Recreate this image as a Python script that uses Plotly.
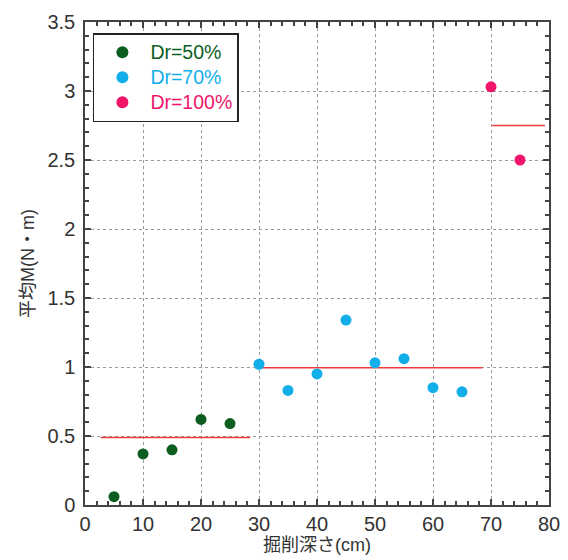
import plotly.graph_objects as go

# Data
depth_50 = [5, 10, 15, 20, 25]
m_50 = [0.06, 0.37, 0.40, 0.62, 0.59]
depth_70 = [30, 35, 40, 45, 50, 55, 60, 65]
m_70 = [1.02, 0.83, 0.95, 1.34, 1.03, 1.06, 0.85, 0.82]
depth_100 = [70, 75]
m_100 = [3.03, 2.50]

# Mean lines (start, end, value)
mean_x_50 = [2.7, 28.5]
mean_y_50 = [0.49, 0.49]
mean_x_70 = [30.6, 68.5]
mean_y_70 = [0.995, 0.995]
mean_x_100 = [70.2, 79.3]
mean_y_100 = [2.75, 2.75]

series_names = ["Dr=50%", "Dr=70%", "Dr=100%"]
colors = ["#0b5e1f", "#12aeea", "#f0156b"]
line_color = "#f23a3a"

x_ticks = [0, 10, 20, 30, 40, 50, 60, 70, 80]
y_ticks = [0, 0.5, 1, 1.5, 2, 2.5, 3, 3.5]
y_tick_text = ["0", "0.5", "1", "1.5", "2", "2.5", "3", "3.5"]

font_family = "Liberation Sans, Noto Sans CJK JP, sans-serif"

fig = go.Figure()

for xs, ys in [(mean_x_50, mean_y_50), (mean_x_70, mean_y_70), (mean_x_100, mean_y_100)]:
    fig.add_trace(go.Scatter(x=xs, y=ys, mode="lines",
                             line=dict(color=line_color, width=1.5),
                             showlegend=False, hoverinfo="skip"))

for name, xs, ys, c in zip(series_names, [depth_50, depth_70, depth_100],
                           [m_50, m_70, m_100], colors):
    fig.add_trace(go.Scatter(x=xs, y=ys, mode="markers",
                             marker=dict(color=c, size=11, line=dict(width=0)),
                             name=f'<span style="color:{c};font-size:19.5px">{name}</span>'))

axis_common = dict(
    showline=True, linecolor="#444", linewidth=1.5, mirror="ticks",
    ticks="inside", ticklen=6, tickcolor="#444", tickwidth=1.5,
    showgrid=True, gridcolor="#9a9a9a", griddash="dot", gridwidth=1,
    zeroline=False, automargin=False,
    tickfont=dict(family=font_family, size=20, color="#333"),
)

fig.update_xaxes(
    range=[0, 80], tickvals=x_ticks,
    minor=dict(dtick=2, ticks="inside", ticklen=4, tickcolor="#444", showgrid=False),
    title=dict(text="掘削深さ(cm)", font=dict(family=font_family, size=18, color="#333"), standoff=0),
    **axis_common,
)
fig.update_yaxes(
    range=[0, 3.5], tickvals=y_ticks, ticktext=y_tick_text,
    ticklabelstandoff=4,
    minor=dict(dtick=0.1, ticks="inside", ticklen=4, tickcolor="#444", showgrid=False),
    title=dict(text="平均M(N・m)", font=dict(family=font_family, size=18, color="#333"), standoff=8),
    **axis_common,
)

fig.update_layout(
    width=560, height=552,
    margin=dict(l=77, r=19, t=14, b=55),
    paper_bgcolor="white", plot_bgcolor="white",
    font=dict(family=font_family, size=18, color="#333"),
    legend=dict(x=0.017, y=0.977, xanchor="left", yanchor="top",
                bgcolor="white", bordercolor="#222", borderwidth=1.5,
                font=dict(family=font_family, size=17),
                itemwidth=46,
                itemsizing="constant", tracegroupgap=0),
)

fig.write_html("out.html")
